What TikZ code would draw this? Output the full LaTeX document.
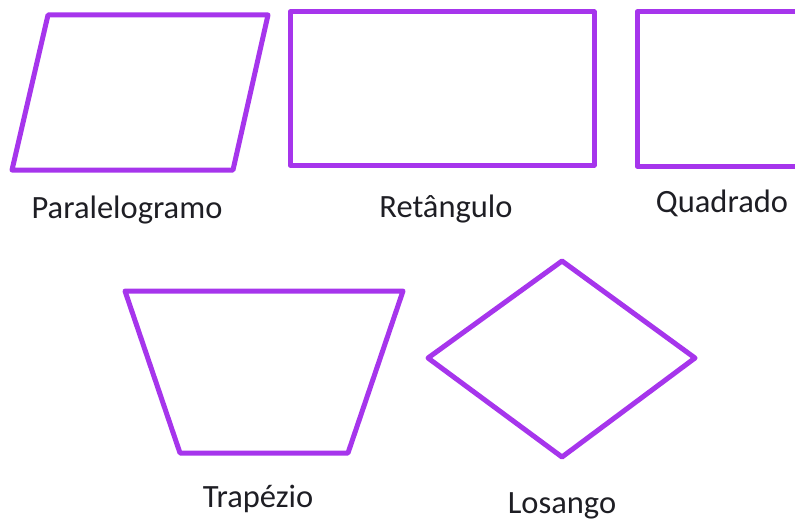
\documentclass[tikz,border=0pt]{standalone}
\usepackage{fontspec}
\setmainfont{Carlito}
\usepackage{xcolor}
\definecolor{figviolet}{HTML}{A635EC}
\definecolor{labelink}{HTML}{1E1E24}

\begin{document}
\begin{tikzpicture}[
    x=1pt, y=-1pt,
    font=\fontsize{32.5}{38}\selectfont\color{labelink},
    outline/.style={
        draw=figviolet, line width=5pt, line join=round,
    },
    lbl/.style={
        anchor=base, inner sep=0pt,
    },
]

\useasboundingbox (0,0) rectangle (795,524);
\clip (0,0) rectangle (795,524);

% -- Paralelogramo --
\draw[outline] (48,15) -- (268,15) -- (233,170) -- (12,170) -- cycle;
\node[lbl] (lparal) at (127,218) {Paralelogramo};

% -- Retangulo --
\draw[outline] (290,12) rectangle (594,165);
\node[lbl] (lret) at (446,217) {Retângulo};

% -- Quadrado (cut at the right edge) --
\draw[outline] (637,12) rectangle (830,166);
\node[lbl] (lquad) at (722,212) {Quadrado};

% -- Trapezio --
\draw[outline] (125,291) -- (403,291) -- (348,453) -- (180,453) -- cycle;
\node[lbl] (ltrap) at (258,507) {Trapézio};

% -- Losango --
\draw[outline] (562,261) -- (695,358) -- (562,457) -- (428,358) -- cycle;
\node[lbl] (llos) at (562,513) {Losango};

\end{tikzpicture}
\end{document}
